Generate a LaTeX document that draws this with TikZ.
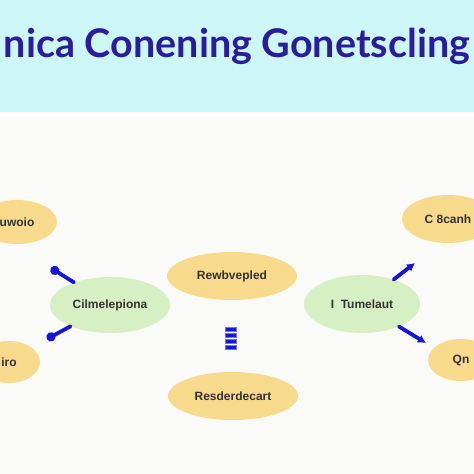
\documentclass[tikz,border=0pt]{standalone}
\usepackage{fontspec}
\setmainfont{Liberation Sans}
\newfontfamily\titlefont{Lato}
\usetikzlibrary{arrows.meta, shapes.geometric}
\definecolor{banner}{HTML}{CDF6F6}
\definecolor{paper}{HTML}{FAFAF8}
\definecolor{titleblue}{HTML}{2B1C9C}
\definecolor{sand}{HTML}{F8DA8C}
\definecolor{mint}{HTML}{D6F0C3}
\definecolor{inkblue}{HTML}{1414DC}
\definecolor{darkgray}{HTML}{333333}

\begin{document}
\begin{tikzpicture}[
    x=1pt, y=-1pt,
    font=\bfseries\fontsize{12}{14}\selectfont,
    topic/.style={ellipse, fill=sand, inner sep=0pt, text=darkgray},
    hub/.style={ellipse, fill=mint, inner sep=0pt, text=darkgray},
    link/.style={inkblue, line width=3.8pt, line cap=round},
    bar/.style={fill=inkblue, draw=inkblue!60}
]
\useasboundingbox (0,0) rectangle (474,474);

% Background and banner
\fill[paper] (0,0) rectangle (474,474);
\fill[banner] (0,0) rectangle (474,112);
\fill[white] (0,112) rectangle (474,117);
\node[font=\titlefont\bfseries\fontsize{39.5}{44}\selectfont, text=titleblue, anchor=base, inner sep=0pt] (title) at (237,57) {nica Conening Gonetscling};

% Hubs (sides)
\node[hub, minimum width=120, minimum height=56] (lhub) at (110,305) {Cilmelepiona};
\node[hub, minimum width=116, minimum height=58] (rhub) at (362,304) {I\ \ Tumelaut};

% Topics (centre)
\node[topic, minimum width=130, minimum height=48] (ctop) at (232,276) {Rewbvepled};
\node[topic, minimum width=130, minimum height=48] (cbot) at (233,396) {Resderdecart};

% Topics (at the edges)
\node[topic, minimum width=80, minimum height=44] (ltop) at (17,222) {uwoio};
\node[topic, minimum width=62, minimum height=42] (lbot) at (9,362) {iro};
\node[topic, minimum width=92, minimum height=48] (rtop) at (448,219) {C\ 8canh};
\node[topic, minimum width=66, minimum height=42] (rbot) at (461,360) {Qn};

% Stack of bars
\foreach \k in {0,...,3}
    \draw[bar] (225,327+6*\k) rectangle (236,331+6*\k);

% Short links
\coordinate (ltip) at (51,268);
\coordinate (lbtip) at (47,339);
\coordinate (rtip) at (415,263);
\coordinate (rbtip) at (426,343);
\draw[link, -{Circle[length=9pt]}] (lhub) -- (ltip);
\draw[link, -{Circle[length=9pt]}] (lhub) -- (lbtip);
\draw[link, -{Latex[length=8pt, width=9pt]}] (rhub) -- (rtip);
\draw[link, -{Latex[length=8pt, width=9pt]}] (rhub) -- (rbtip);

\end{tikzpicture}
\end{document}
